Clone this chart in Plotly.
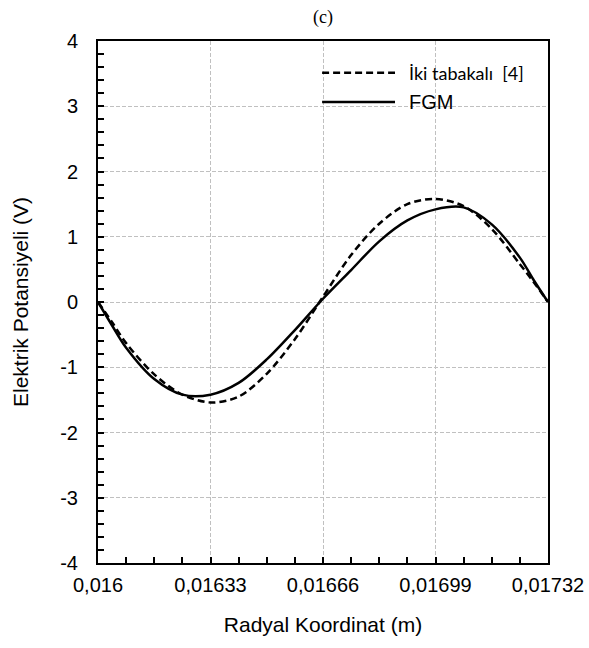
import plotly.graph_objects as go

# Data
radial_x = [0.016, 0.0160413, 0.0160825, 0.016165, 0.0162475, 0.01633, 0.0164125,
            0.016495, 0.0165775, 0.01666, 0.0167425, 0.016825, 0.0169075, 0.01699,
            0.0170725, 0.017155, 0.0172375, 0.0172788, 0.01732]
iki_tabakali = [0, -0.31, -0.63, -1.11, -1.42, -1.54, -1.45, -1.10, -0.57, 0.08,
                0.72, 1.20, 1.50, 1.58, 1.47, 1.12, 0.58, 0.30, 0]
fgm = [0, -0.36, -0.70, -1.18, -1.42, -1.42, -1.24, -0.88, -0.43, 0.05,
       0.49, 0.93, 1.25, 1.42, 1.45, 1.19, 0.68, 0.33, 0]

x_tickvals = [0.016, 0.01633, 0.01666, 0.01699, 0.01732]
x_ticktext = ["0,016", "0,01633", "0,01666", "0,01699", "0,01732"]
y_tickvals = [-4, -3, -2, -1, 0, 1, 2, 3, 4]
y_ticktext = ["-4", "-3", "-2", "-1", "0", "1", "2", "3", "4"]

series_names = ["İki tabakalı  [4]", "FGM"]

FONT = "Liberation Sans"

fig = go.Figure()
fig.add_trace(go.Scatter(x=radial_x, y=iki_tabakali, mode="lines", name=series_names[0],
                         line=dict(color="black", width=2.5, dash="7px,4px", shape="spline", smoothing=0.9),
                         showlegend=False))
fig.add_trace(go.Scatter(x=radial_x, y=fgm, mode="lines", name=series_names[1],
                         line=dict(color="black", width=2.5, shape="spline", smoothing=0.9),
                         showlegend=False))

# Manual legend (line samples + labels) in paper coordinates
legend_rows = [(0.939, "7px,4px", series_names[0], "Lato", 18),
               (0.883, "solid", series_names[1], FONT, 20)]
for ypos, dash, label, fam, size in legend_rows:
    fig.add_shape(type="line", xref="paper", yref="paper", x0=0.498, x1=0.66, y0=ypos, y1=ypos,
                  line=dict(color="black", width=2.5, dash=dash))
    fig.add_annotation(xref="paper", yref="paper", x=0.687, y=ypos,
                       text=label.replace("  ", " \u00a0"), showarrow=False,
                       xanchor="left", yanchor="middle", font=dict(family=fam, size=size, color="black"))

fig.update_layout(
    width=589, height=648,
    margin=dict(l=98, r=41, t=41, b=85, autoexpand=False),
    paper_bgcolor="white", plot_bgcolor="white",
    showlegend=False,
    title=dict(text="(c)", x=0.5, xref="paper", xanchor="center", y=1 - 17 / 648, yref="container",
               yanchor="middle", font=dict(family="Liberation Serif", size=18, color="black")),
    font=dict(family=FONT, color="black"),
)

fig.update_xaxes(
    range=[0.016, 0.01732], tickmode="array", tickvals=x_tickvals, ticktext=x_ticktext,
    automargin=False,
    ticks="inside", ticklen=6, tickwidth=2, tickcolor="black",
    tickfont=dict(family=FONT, size=20, color="black"), ticklabelstandoff=3,
    showline=True, linecolor="black", linewidth=2, mirror=True,
    showgrid=True, gridcolor="#c0c0c0", gridwidth=1, griddash="4px,2px",
    zeroline=False,
    minor=dict(tickmode="linear", tick0=0.016, dtick=0.0000825, ticks="inside", ticklen=6,
               tickwidth=2, tickcolor="black", showgrid=False),
    title=dict(text="Radyal Koordinat (m)", font=dict(family=FONT, size=21, color="black"), standoff=22),
)
fig.update_yaxes(
    range=[-4, 4], tickmode="array", tickvals=y_tickvals, ticktext=y_ticktext,
    automargin=False,
    ticks="inside", ticklen=6, tickwidth=2, tickcolor="black",
    tickfont=dict(family=FONT, size=20, color="black"), ticklabelstandoff=14,
    showline=True, linecolor="black", linewidth=2, mirror=True,
    showgrid=True, gridcolor="#c0c0c0", gridwidth=1, griddash="4px,2px",
    zeroline=False,
    minor=dict(tickmode="linear", tick0=-4, dtick=0.2, ticks="inside", ticklen=6,
               tickwidth=2, tickcolor="black", showgrid=False),
    title=dict(text="Elektrik Potansiyeli (V)", font=dict(family=FONT, size=21, color="black"), standoff=26),
)

fig.write_html("out.html", config={"displayModeBar": False},
               post_script="document.body.style.margin='0';document.body.style.overflow='hidden';")
